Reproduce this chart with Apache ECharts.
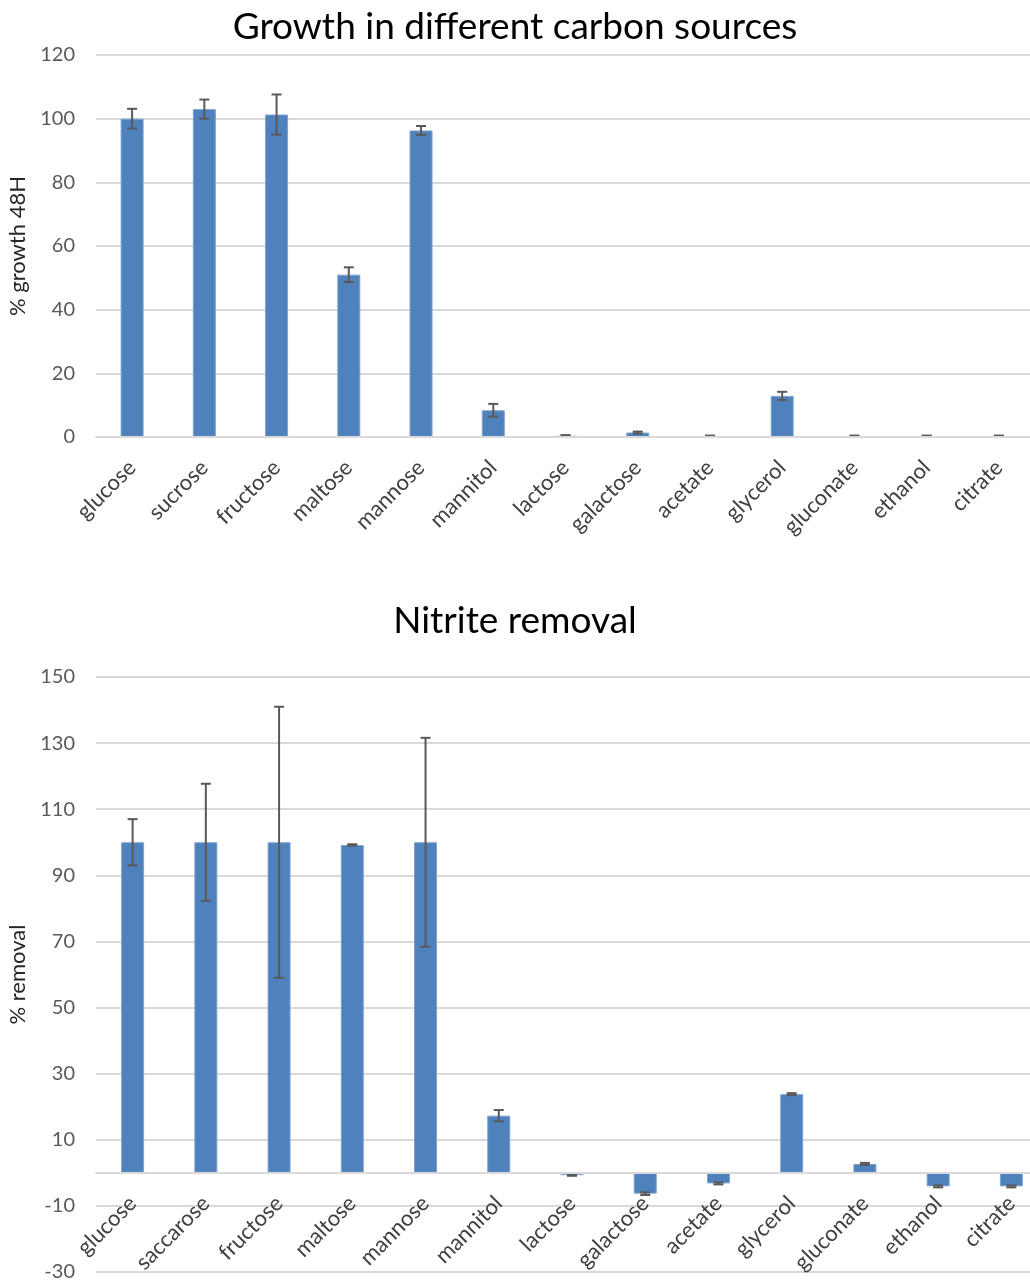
<!DOCTYPE html>
<html>
<head>
<meta charset="utf-8">
<script src="https://cdn.jsdelivr.net/npm/echarts@6/dist/echarts.min.js"></script>
<style>
  html, body { margin: 0; padding: 0; background: #fff; }
  #chart { width: 1030px; height: 1281px; }
</style>
</head>
<body>
<div id="chart"></div>
<script>
// ---- Chart 1: Growth in different carbon sources ----
var growthCategories = ['glucose', 'sucrose', 'fructose', 'maltose', 'mannose', 'mannitol', 'lactose', 'galactose', 'acetate', 'glycerol', 'gluconate', 'ethanol', 'citrate'];
var growthValues = [100, 103, 101.3, 51, 96.3, 8.4, 0.4, 1.4, 0.3, 12.9, 0.3, 0.3, 0.3];
var growthErrors = [3.1, 3, 6.3, 2.3, 1.4, 2, 0.2, 0.3, 0.15, 1.3, 0.15, 0.15, 0.15];

// ---- Chart 2: Nitrite removal ----
var nitriteCategories = ['glucose', 'saccarose', 'fructose', 'maltose', 'mannose', 'mannitol', 'lactose', 'galactose', 'acetate', 'glycerol', 'gluconate', 'ethanol', 'citrate'];
var nitriteValues = [100, 100, 100, 99.2, 100, 17.3, -0.7, -6.3, -3.2, 23.8, 2.7, -4.1, -4.1];
var nitriteErrors = [7, 17.7, 41, 0.2, 31.6, 1.7, 0.2, 0.4, 0.3, 0.3, 0.3, 0.3, 0.3];

var growthTicks = { min: 0, max: 120, interval: 20 };
var nitriteTicks = { min: -30, max: 150, interval: 20 };

var FONT = 'Lato, "Open Sans", sans-serif';
var BAR = '#4f81bd';
var ERR = '#595959';
var GRIDC = '#d9d9d9';

var G1 = { left: 96, right: -5, top: 55, height: 382 };
var G2 = { left: 96, right: -18, top: 677, height: 595 };

function errData(vals, errs) {
  return vals.map(function (v, i) { return [i, v - errs[i], v + errs[i]]; });
}

function errRender(params, api) {
  var x = api.value(0);
  var lo = api.coord([x, api.value(1)]);
  var hi = api.coord([x, api.value(2)]);
  var hw = 5;
  var st = { stroke: ERR, lineWidth: 2 };
  return {
    type: 'group',
    children: [
      { type: 'line', shape: { x1: lo[0], y1: lo[1], x2: hi[0], y2: hi[1] }, style: st },
      { type: 'line', shape: { x1: hi[0] - hw, y1: hi[1], x2: hi[0] + hw, y2: hi[1] }, style: st },
      { type: 'line', shape: { x1: lo[0] - hw, y1: lo[1], x2: lo[0] + hw, y2: lo[1] }, style: st }
    ]
  };
}

function catAxis(idx, cats, t, g, margin) {
  // place the category axis (line + labels) at value 0
  var off = -(0 - t.min) / (t.max - t.min) * g.height;
  return {
    type: 'category', gridIndex: idx, data: cats, position: 'bottom', offset: off, z: 10,
    axisLine: { show: true, onZero: false, lineStyle: { color: GRIDC, width: 2 } },
    axisTick: { show: false },
    axisLabel: { rotate: 45, fontFamily: FONT, fontSize: 22, color: '#404040', margin: margin, interval: 0 }
  };
}

function valAxis(idx, t, name) {
  return {
    type: 'value', gridIndex: idx, min: t.min, max: t.max, interval: t.interval,
    name: name, nameLocation: 'middle', nameRotate: 90, nameGap: 61,
    nameTextStyle: { fontFamily: FONT, fontSize: 22, color: '#262626' },
    axisLine: { show: false }, axisTick: { show: false },
    axisLabel: { fontFamily: FONT, fontSize: 20, color: '#595959', margin: 21 },
    splitLine: { show: true, lineStyle: { color: GRIDC, width: 2 } }
  };
}

function gridOpt(g) {
  return { left: g.left, right: g.right, top: g.top, height: g.height, containLabel: false, outerBoundsMode: 'none' };
}

var chart = echarts.init(document.getElementById('chart'));
chart.setOption({
  animation: false,
  backgroundColor: '#fff',
  title: [
    { text: 'Growth in different carbon sources', left: 'center', top: 4,
      textStyle: { fontFamily: FONT, fontSize: 37, fontWeight: 'normal', color: '#000' } },
    { text: 'Nitrite removal', left: 'center', top: 598,
      textStyle: { fontFamily: FONT, fontSize: 37, fontWeight: 'normal', color: '#000' } }
  ],
  grid: [gridOpt(G1), gridOpt(G2)],
  xAxis: [catAxis(0, growthCategories, growthTicks, G1, 27), catAxis(1, nitriteCategories, nitriteTicks, G2, 27)],
  yAxis: [valAxis(0, growthTicks, '% growth 48H'), valAxis(1, nitriteTicks, '% removal')],
  series: [
    { type: 'bar', xAxisIndex: 0, yAxisIndex: 0, data: growthValues, barWidth: 23,
      itemStyle: { color: BAR, borderColor: '#7ea3d3', borderWidth: 1 } },
    { type: 'custom', xAxisIndex: 0, yAxisIndex: 0, data: errData(growthValues, growthErrors),
      renderItem: errRender, z: 5 },
    { type: 'bar', xAxisIndex: 1, yAxisIndex: 1, data: nitriteValues, barWidth: 23,
      itemStyle: { color: BAR, borderColor: '#7ea3d3', borderWidth: 1 } },
    { type: 'custom', xAxisIndex: 1, yAxisIndex: 1, data: errData(nitriteValues, nitriteErrors),
      renderItem: errRender, z: 5 }
  ]
});
</script>
</body>
</html>
